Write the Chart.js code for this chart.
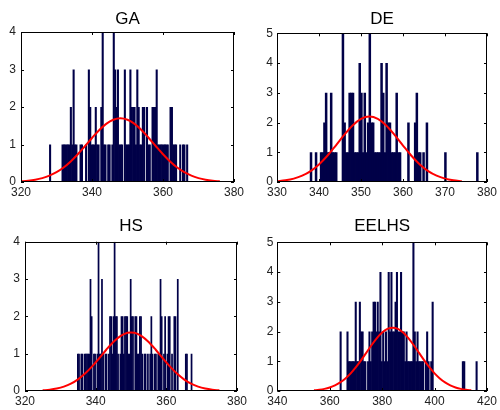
<!DOCTYPE html>
<html>
<head>
<meta charset="utf-8">
<script src="https://cdn.jsdelivr.net/npm/chart.js@4.4.1/dist/chart.umd.min.js"></script>
<style>
  body { margin: 0; background: #fff; }
  #wrap { position: relative; width: 500px; height: 410px; }
  canvas { position: absolute; }
</style>
</head>
<body>
<div id="wrap">
  <canvas id="gaChart" width="250" height="205" style="left:0;top:0"></canvas>
  <canvas id="deChart" width="250" height="205" style="left:250px;top:0"></canvas>
  <canvas id="hsChart" width="250" height="205" style="left:0;top:205px"></canvas>
  <canvas id="eelhsChart" width="250" height="205" style="left:250px;top:205px"></canvas>
</div>
<script>
// histogram counts, 100 bins each
const gaBinStart = 328.0;
const gaBinWidth = 0.39;
const gaCounts = [
  1,0,0,0,0,0,0,0,0,1, 1,1,1,1,1,2,1,3,1,1,
  0,0,1,1,0,0,1,0,3,2, 1,1,1,2,1,1,0,2,4,1,
  1,0,1,1,0,1,4,3,2,3, 1,1,1,0,3,1,1,1,3,2,
  2,2,1,3,2,1,1,2,2,0, 2,1,1,0,2,2,2,3,1,1,
  1,1,1,1,1,1,0,2,2,1, 1,1,0,0,1,0,1,1,0,1
];
const gaCurveX = [320,322,324,326,328,330,332,334,336,338,340,342,344,346,348,350,352,354,356,358,360,362,364,366,368,370,372,374,376];
const gaCurveY = [0.018,0.034,0.061,0.104,0.168,0.261,0.387,0.548,0.740,0.954,1.174,1.381,1.550,1.661,1.70,1.661,1.550,1.381,1.174,0.954,0.740,0.548,0.387,0.261,0.168,0.104,0.061,0.034,0.018];

const deBinStart = 337.9;
const deBinWidth = 0.40;
const deCounts = [
  1,0,0,1,0,0,1,1,2,3, 1,1,3,1,1,1,0,0,0,5,
  2,1,1,3,3,3,1,1,1,4, 3,1,3,1,2,5,2,2,1,1,
  1,1,4,3,1,4,2,2,1,1, 1,3,1,1,0,0,0,0,2,0,
  0,0,2,3,1,1,0,1,0,2, 0,0,0,0,0,0,0,0,0,0,
  1,0,0,0,0,0,0,0,0,0, 0,0,0,0,0,0,0,0,0,1
];
const deCurveX = [330,332,334,336,338,340,342,344,346,348,350,352,354,356,358,360,362,364,366,368,370,372,374];
const deCurveY = [0.026,0.057,0.114,0.213,0.367,0.591,0.883,1.227,1.583,1.901,2.121,2.2,2.121,1.901,1.583,1.227,0.883,0.591,0.367,0.213,0.114,0.057,0.026];

const hsBinStart = 334.8;
const hsBinWidth = 0.325;
const hsCounts = [
  1,1,0,1,1,0,1,1,1,1, 1,3,2,0,1,1,0,1,4,1,
  1,3,1,0,1,1,0,1,2,2, 1,2,4,2,2,1,0,1,2,2,
  1,2,2,2,1,1,3,2,2,0, 2,2,1,1,2,2,1,0,1,1,
  0,1,0,1,2,1,0,1,1,0, 1,1,3,2,0,1,2,0,1,2,
  2,0,1,0,2,2,0,3,0,0, 0,0,0,0,1,1,0,0,0,1
];
const hsCurveX = [325,327,329,331,333,335,337,339,341,343,345,347,349,350,351,353,355,357,359,361,363,365,367,369,371,373,375];
const hsCurveY = [0.018,0.035,0.066,0.118,0.197,0.313,0.467,0.659,0.878,1.105,1.313,1.471,1.559,1.57,1.559,1.471,1.313,1.105,0.878,0.659,0.467,0.313,0.197,0.118,0.066,0.035,0.018];

const eelBinStart = 363.9;
const eelBinWidth = 0.524;
const eelCounts = [
  2,0,0,0,0,2,1,1,1,1, 1,3,1,1,3,2,2,1,1,0,
  1,2,1,2,3,3,2,3,2,4, 1,2,1,2,1,4,2,4,2,2,
  3,4,2,2,4,2,2,1,2,1, 1,1,1,5,2,1,2,1,1,1,
  1,0,1,2,1,0,1,3,0,0, 0,0,0,0,0,0,0,0,0,0,
  0,0,0,0,0,0,0,0,0,1, 1,0,0,0,0,0,0,0,0,1
];
const eelCurveX = [354,356,358,360,362,364,366,368,370,372,374,376,378,380,382,384,386,388,390,392,394,396,398,400,402,404,406,408,410,412,414];
const eelCurveY = [0.024,0.042,0.072,0.120,0.189,0.288,0.422,0.592,0.799,1.037,1.292,1.547,1.779,1.966,2.088,2.13,2.088,1.966,1.779,1.547,1.292,1.037,0.799,0.592,0.422,0.288,0.189,0.120,0.072,0.042,0.024];

const FONT = 'Liberation Sans, Arial, Helvetica, sans-serif';

// matlab style box with inward ticks on all four sides
const boxTicks = {
  id: 'boxTicks',
  afterDraw(chart) {
    const { ctx, chartArea: a, scales } = chart;
    ctx.save();
    ctx.strokeStyle = '#000';
    ctx.lineWidth = 1;
    ctx.strokeRect(Math.round(a.left) + 0.5, Math.round(a.top) + 0.5,
      Math.round(a.right - a.left) - 1, Math.round(a.bottom - a.top) - 1);
    ctx.beginPath();
    scales.x.ticks.forEach((t) => {
      const px = Math.round(scales.x.getPixelForValue(t.value)) + 0.5;
      ctx.moveTo(px, a.bottom); ctx.lineTo(px, a.bottom - 3);
      ctx.moveTo(px, a.top); ctx.lineTo(px, a.top + 3);
    });
    scales.y.ticks.forEach((t) => {
      const py = Math.round(scales.y.getPixelForValue(t.value)) + 0.5;
      ctx.moveTo(a.left, py); ctx.lineTo(a.left + 3, py);
      ctx.moveTo(a.right, py); ctx.lineTo(a.right - 3, py);
    });
    ctx.stroke();
    ctx.restore();
  },
};

function makeHist(id, o) {
  const bars = o.counts.map((c, i) => ({ x: o.binStart + o.binWidth * (i + 0.5), y: c }));
  const curve = o.curveX.map((x, i) => ({ x, y: o.curveY[i] }));
  return new Chart(document.getElementById(id), {
    type: 'bar',
    data: {
      datasets: [
        {
          type: 'line',
          data: curve,
          borderColor: '#ff0000',
          borderWidth: 2,
          pointRadius: 0,
          cubicInterpolationMode: 'monotone',
          order: 0,
        },
        {
          type: 'bar',
          data: bars,
          backgroundColor: '#000048',
          borderWidth: 0,
          barPercentage: 1.5,
          categoryPercentage: 1,
          order: 1,
        },
      ],
    },
    options: {
      responsive: false,
      animation: false,
      events: [],
      layout: { autoPadding: false, padding: { left: 0, right: o.padRight, top: 0, bottom: 0 } },
      plugins: {
        legend: { display: false },
        tooltip: { enabled: false },
        title: {
          display: true,
          text: o.title,
          fullSize: false,
          color: '#000',
          font: { family: FONT, size: 17, weight: 'normal' },
          padding: o.titlePad,
        },
      },
      scales: {
        x: {
          type: 'linear',
          min: o.xMin,
          max: o.xMax,
          offset: false,
          grid: { display: false, drawTicks: false },
          border: { display: false },
          ticks: { stepSize: o.xStep, color: '#222', font: { family: FONT, size: 12 }, padding: 3, maxRotation: 0, autoSkip: false },
          afterFit: (s) => { s.height = o.xHeight; },
        },
        y: {
          min: 0,
          max: o.yMax,
          grid: { display: false, drawTicks: false },
          border: { display: false },
          ticks: { stepSize: 1, color: '#222', font: { family: FONT, size: 12 }, padding: o.yPad },
          afterFit: (s) => { s.width = o.yWidth; },
        },
      },
    },
    plugins: [boxTicks],
  });
}

makeHist('gaChart', {
  title: 'GA', counts: gaCounts, binStart: gaBinStart, binWidth: gaBinWidth,
  curveX: gaCurveX, curveY: gaCurveY, xMin: 320, xMax: 380, xStep: 20, yMax: 4,
  yWidth: 21, yPad: 5, xHeight: 23, padRight: 16, titlePad: { top: 9, bottom: 2.6 },
});
makeHist('deChart', {
  title: 'DE', counts: deCounts, binStart: deBinStart, binWidth: deBinWidth,
  curveX: deCurveX, curveY: deCurveY, xMin: 330, xMax: 380, xStep: 10, yMax: 5,
  yWidth: 27, yPad: 4, xHeight: 23, padRight: 10, titlePad: { top: 9, bottom: 3.9 },
});
makeHist('hsChart', {
  title: 'HS', counts: hsCounts, binStart: hsBinStart, binWidth: hsBinWidth,
  curveX: hsCurveX, curveY: hsCurveY, xMin: 320, xMax: 380, xStep: 20, yMax: 4,
  yWidth: 25, yPad: 5, xHeight: 19, padRight: 11.7, titlePad: { top: 10.8, bottom: 5.5 },
});
makeHist('eelhsChart', {
  title: 'EELHS', counts: eelCounts, binStart: eelBinStart, binWidth: eelBinWidth,
  curveX: eelCurveX, curveY: eelCurveY, xMin: 340, xMax: 420, xStep: 20, yMax: 5,
  yWidth: 27.3, yPad: 4, xHeight: 19, padRight: 10, titlePad: { top: 10.8, bottom: 6.1 },
});
</script>
</body>
</html>
